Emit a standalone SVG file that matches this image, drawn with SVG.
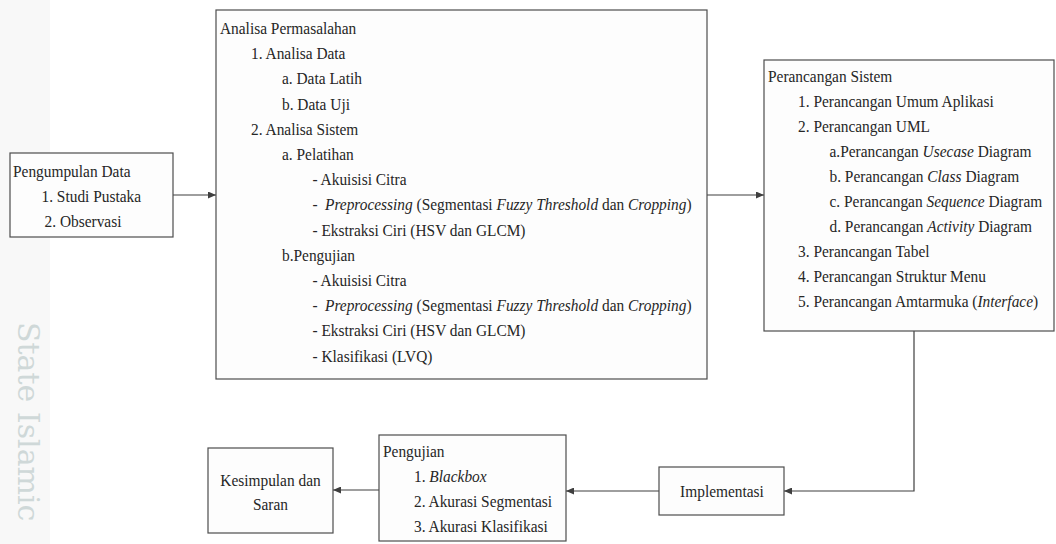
<svg xmlns="http://www.w3.org/2000/svg" width="1056" height="544" viewBox="0 0 1056 544">
<style>
.box{fill:#fdfdfd;stroke:#4d4d4d;stroke-width:1.2}
.edge{fill:none;stroke:#3f3f3f;stroke-width:1.2}
.t{font-size:17.5px;fill:#262626}
.i{font-style:italic}
</style>
<defs>
<marker id="ah" markerUnits="userSpaceOnUse" markerWidth="8" markerHeight="7" refX="8" refY="3.5" orient="auto">
<path d="M0,0 L8,3.5 L0,7 z" fill="#3f3f3f"/>
</marker>
</defs>
<rect x="0" y="0" width="1056" height="544" fill="#ffffff"/>
<rect x="0" y="0" width="50" height="544" fill="#f8f8f8"/>
<text x="18" y="322" transform="rotate(90 18 322)" font-family="DejaVu Serif, serif" font-size="30" fill="#cfd8d8">State Islamic</text>

<g id="connectors">
<path class="edge" d="M173,195 L216,195" marker-end="url(#ah)"/>
<path class="edge" d="M707,195 L764,195" marker-end="url(#ah)"/>
<path class="edge" d="M914,331 L914,491 L784,491" marker-end="url(#ah)"/>
<path class="edge" d="M659,491 L566,491" marker-end="url(#ah)"/>
<path class="edge" d="M379,490 L333,490" marker-end="url(#ah)"/>
</g>

<g font-family="Liberation Serif, Times New Roman, serif">
<g id="pengumpulan">
<rect class="box" x="10" y="153" width="163" height="84"/>
<g transform="scale(0.88 1)">
<text class="t" x="14.77" y="177">Pengumpulan Data</text>
<text class="t" x="47.16" y="202">1. Studi Pustaka</text>
<text class="t" x="50.57" y="227">2. Observasi</text>
</g>
</g>

<g id="analisa">
<rect class="box" x="216" y="10" width="491" height="369"/>
<g transform="scale(0.88 1)">
<text class="t" x="250" y="34">Analisa Permasalahan</text>
<text class="t" x="285.23" y="59.2">1. Analisa Data</text>
<text class="t" x="320.45" y="84.4">a. Data Latih</text>
<text class="t" x="320.45" y="109.6">b. Data Uji</text>
<text class="t" x="285.23" y="134.8">2. Analisa Sistem</text>
<text class="t" x="320.45" y="160">a. Pelatihan</text>
<text class="t" x="355.11" y="185.2">- Akuisisi Citra</text>
<text class="t" x="355.11" y="210.4">- <tspan class="i" dx="4">Preprocessing</tspan> (Segmentasi <tspan class="i">Fuzzy Threshold</tspan> dan <tspan class="i">Cropping</tspan>)</text>
<text class="t" x="355.11" y="235.6">- Ekstraksi Ciri (HSV dan GLCM)</text>
<text class="t" x="320.45" y="260.8">b.Pengujian</text>
<text class="t" x="355.11" y="286">- Akuisisi Citra</text>
<text class="t" x="355.11" y="311.2">- <tspan class="i" dx="4">Preprocessing</tspan> (Segmentasi <tspan class="i">Fuzzy Threshold</tspan> dan <tspan class="i">Cropping</tspan>)</text>
<text class="t" x="355.11" y="336.4">- Ekstraksi Ciri (HSV dan GLCM)</text>
<text class="t" x="355.11" y="361.6">- Klasifikasi (LVQ)</text>
</g>
</g>

<g id="perancangan">
<rect class="box" x="764" y="60" width="290" height="271"/>
<g transform="scale(0.88 1)">
<text class="t" x="872.73" y="82">Perancangan Sistem</text>
<text class="t" x="906.82" y="107">1. Perancangan Umum Aplikasi</text>
<text class="t" x="906.82" y="132">2. Perancangan UML</text>
<text class="t" x="942.61" y="157">a.Perancangan <tspan class="i">Usecase</tspan> Diagram</text>
<text class="t" x="942.61" y="182">b. Perancangan <tspan class="i">Class</tspan> Diagram</text>
<text class="t" x="942.61" y="207">c. Perancangan <tspan class="i">Sequence</tspan> Diagram</text>
<text class="t" x="942.61" y="232">d. Perancangan <tspan class="i">Activity</tspan> Diagram</text>
<text class="t" x="906.82" y="257">3. Perancangan Tabel</text>
<text class="t" x="906.82" y="282">4. Perancangan Struktur Menu</text>
<text class="t" x="906.82" y="307">5. Perancangan Amtarmuka (<tspan class="i">Interface</tspan>)</text>
</g>
</g>

<g id="implementasi">
<rect class="box" x="659" y="467" width="125" height="48"/>
<g transform="scale(0.88 1)">
<text class="t" x="820.45" y="497" text-anchor="middle">Implementasi</text>
</g>
</g>

<g id="pengujian">
<rect class="box" x="379" y="435" width="187" height="106"/>
<g transform="scale(0.88 1)">
<text class="t" x="435.23" y="457">Pengujian</text>
<text class="t" x="470.45" y="482">1. <tspan class="i">Blackbox</tspan></text>
<text class="t" x="470.45" y="507">2. Akurasi Segmentasi</text>
<text class="t" x="470.45" y="532">3. Akurasi Klasifikasi</text>
</g>
</g>

<g id="kesimpulan">
<rect class="box" x="208" y="448" width="125" height="85"/>
<g transform="scale(0.88 1)">
<text class="t" x="307.39" y="486" text-anchor="middle">Kesimpulan dan</text>
<text class="t" x="307.39" y="510" text-anchor="middle">Saran</text>
</g>
</g>
</g>
</svg>
